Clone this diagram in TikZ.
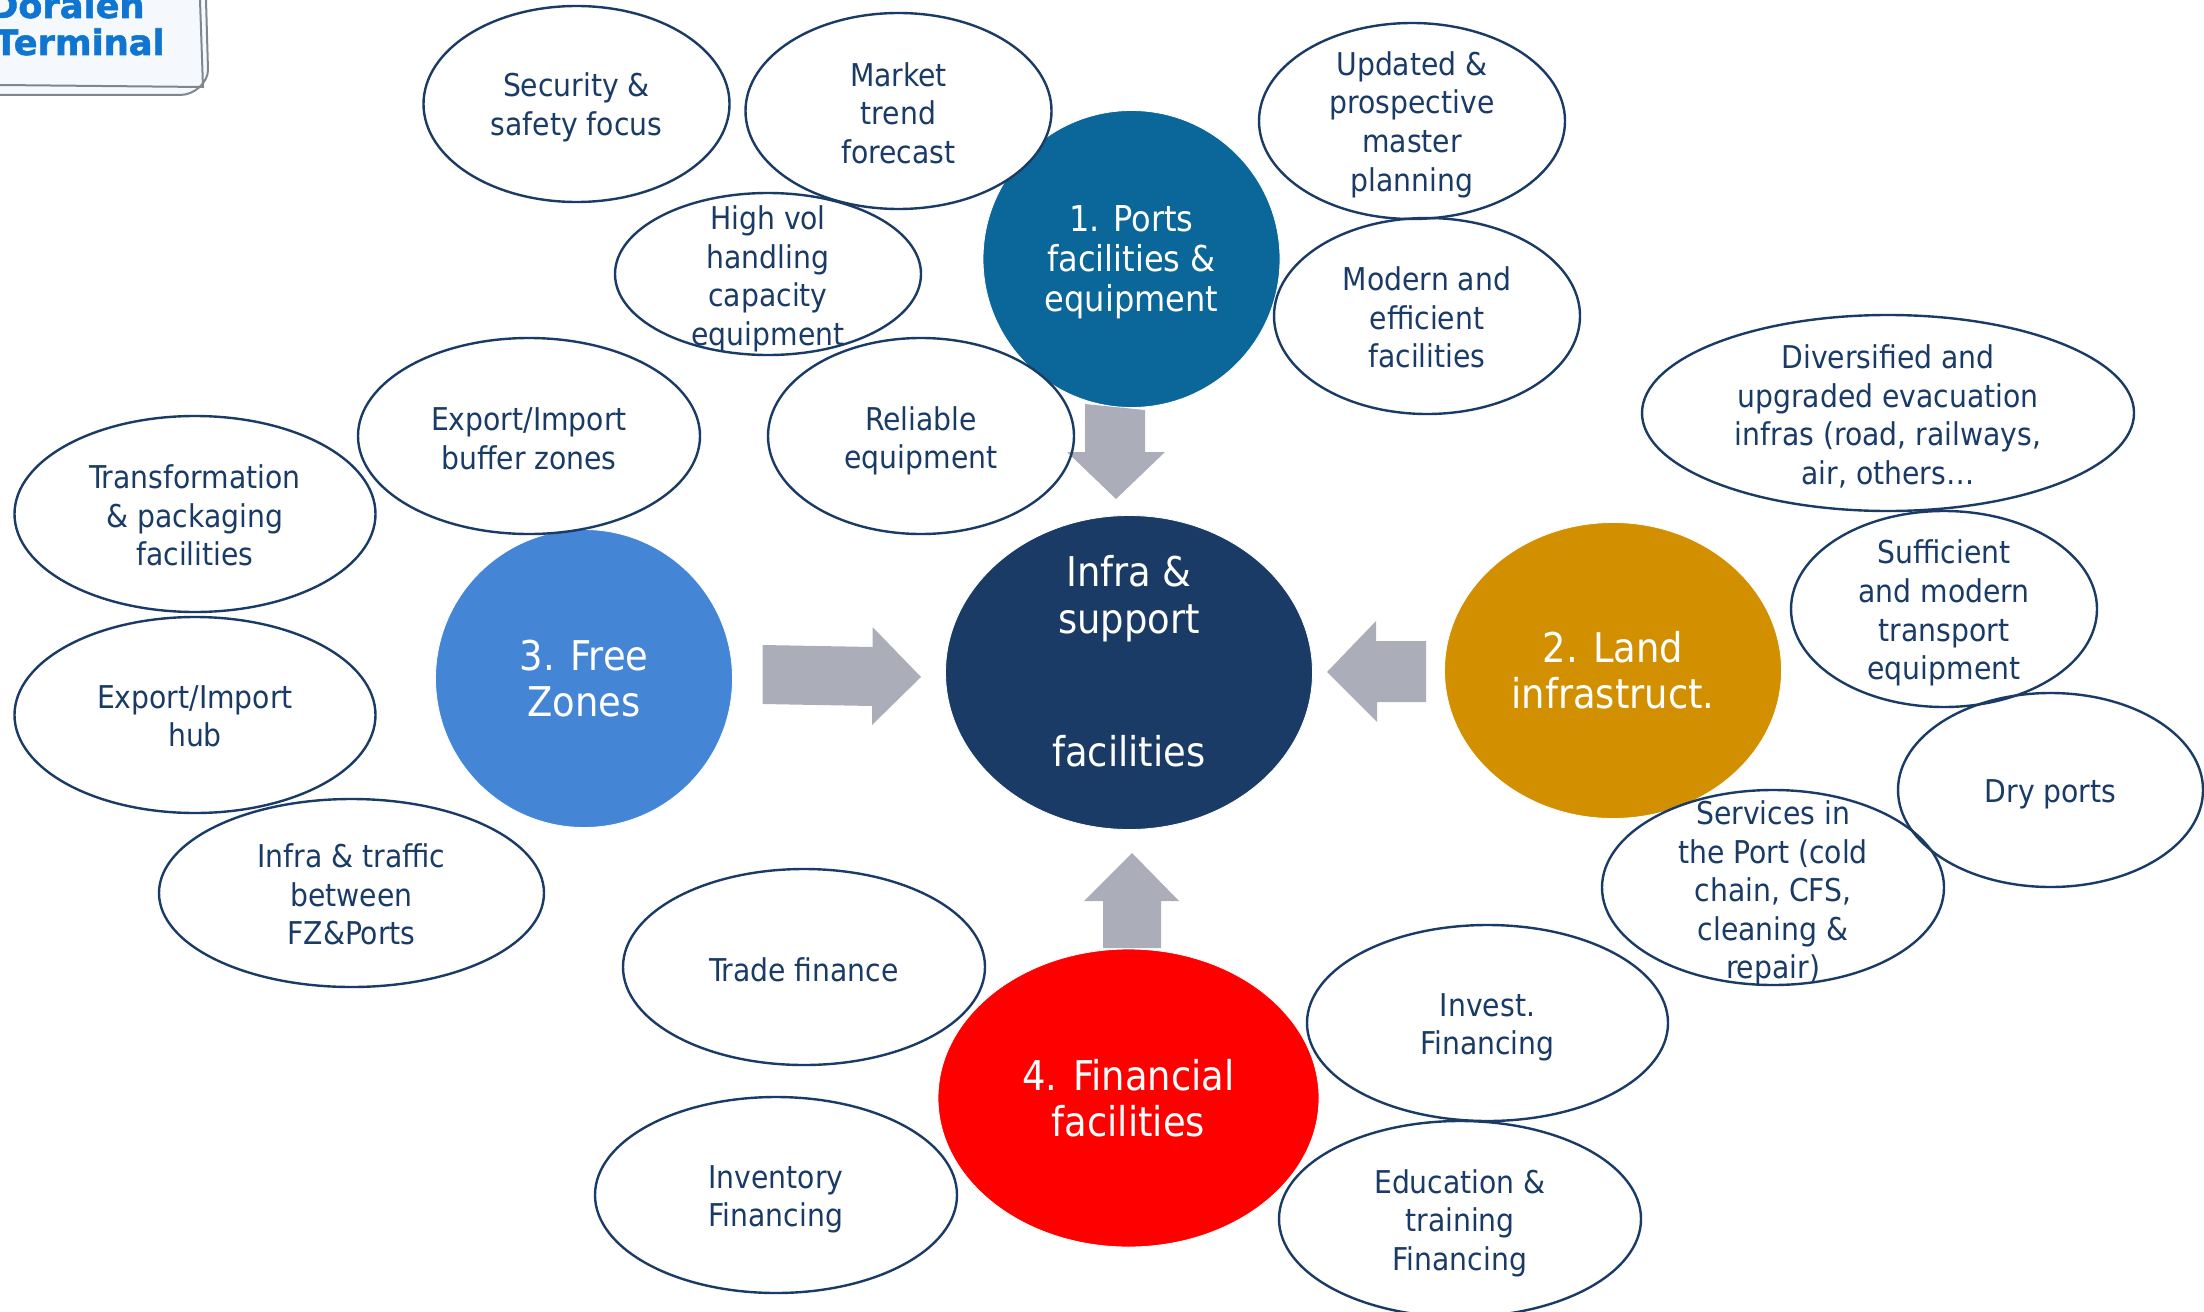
\documentclass[tikz,border=0pt]{standalone}
\usepackage{fontspec}
\setmainfont{DejaVu Sans Condensed}
\newfontfamily\logofont{DejaVu Sans}[FakeBold=1.5]
\definecolor{navy}{HTML}{1A3B66}
\definecolor{portsblue}{HTML}{0B6699}
\definecolor{landgold}{HTML}{D29000}
\definecolor{freeblue}{HTML}{4485D6}
\definecolor{arrowgrey}{HTML}{ABADB8}
\definecolor{logoblue}{HTML}{0F75D0}
\definecolor{logoedge}{HTML}{7F868E}
\tikzset{
  smalltxt/.style={text=navy,align=center,inner sep=0pt,font=\fontsize{15.7}{19.3}\selectfont},
  bigtxt/.style={text=white,align=center,inner sep=0pt,font=\fontsize{20.5}{23.2}\selectfont},
  portstxt/.style={text=white,align=center,inner sep=0pt,font=\fontsize{17.8}{20}\selectfont},
  bubble/.style={ellipse,draw=navy,line width=1.2pt,inner sep=0pt},
  hub/.style={ellipse,draw=white,line width=0.4pt,inner sep=0pt},
  blockarrow/.style={fill=arrowgrey,draw=none},
  logoline/.style={draw=logoedge,line width=1pt},
  logotxt/.style={text=logoblue,font=\logofont\bfseries\fontsize{17.6}{18.5}\selectfont,anchor=base east,inner sep=0pt}
}
\usetikzlibrary{shapes.geometric}
\newcommand\bubfill[7]{\fill[white] (#2,#3) ellipse [x radius=#4, y radius=#5];}
\newcommand\bubnode[7]{\node[bubble,minimum width=#4pt,minimum height=#5pt,label={[smalltxt,yshift=-#6pt]center:{#7}}] (#1) at (#2,#3) {};}
\newcommand\hubnode[7]{\node[hub,fill=#6,minimum width=#4pt,minimum height=#5pt,label={[bigtxt]center:{#7}}] (#1) at (#2,#3) {};}
\newcommand\allbubbles{%
  \bub{security}{576.5}{104}{153}{98}{1.75}{Security \&\\safety focus}
  \bub{market}{898.5}{111}{153}{98}{1.0}{Market\\trend\\forecast}
  \bub{highvol}{768}{274}{153}{81}{2.5}{High vol\\handling\\capacity\\equipment}
  \bub{updated}{1412}{121}{153}{98}{1.75}{Updated \&\\prospective\\master\\planning}
  \bub{modern}{1427}{316}{153}{98}{0.7}{Modern and\\efficient\\facilities}
  \bub{reliable}{921}{436}{153}{98}{2.5}{Reliable\\equipment}
  \bub{buffer}{529}{436}{171}{98}{1.4}{Export/Import\\buffer zones}
  \bub{transform}{195}{514}{180.5}{98}{0.7}{Transformation\\\& packaging\\facilities}
  \bub{exphub}{195}{715}{180.5}{98}{0.7}{Export/Import\\hub}
  \bub{traffic}{351.5}{893}{192.5}{94}{0.7}{Infra \& traffic\\between\\FZ\&Ports}
  \bub{trade}{804}{967}{181}{98}{1.4}{Trade finance}
  \bub{inventory}{776}{1195}{181}{98}{2.1}{Inventory\\Financing}
  \bub{invest}{1487.5}{1023}{180.5}{98}{2.1}{Invest.\\Financing}
  \bub{education}{1460}{1219}{181}{98}{2.1}{Education \&\\training\\Financing}
  \bub{services}{1773}{887.5}{171}{97.5}{2.8}{Services in\\the Port (cold\\chain, CFS,\\cleaning \&\\repair)}
  \bub{dry}{2050.5}{790}{152.5}{97}{2.1}{Dry ports}
  \bub{sufficient}{1944}{609}{153}{98}{2.1}{Sufficient\\and modern\\transport\\equipment}
  \bub{diversified}{1888}{413}{246}{98}{1.75}{Diversified and\\upgraded evacuation\\infras (road, railways,\\air, others…}
}
\begin{document}
\begin{tikzpicture}[x=0.5pt,y=-0.5pt]
\useasboundingbox (0,0) rectangle (2204,1311);
\clip (0,0) rectangle (2204,1311);
% logo
\fill[white!96!logoblue] (0,0) -- (206,0) -- (208,70) .. controls (208,82) and (195,95) .. (180,95) -- (0,95) -- cycle;
\draw[logoline] (206,0) -- (208,70) .. controls (208,82) and (195,95) .. (180,95) -- (0,95);
\draw[logoline] (200,0) -- (203,87) -- (0,85);
\node[logotxt] (logoa) at (145,18) {Doraleh};
\node[logotxt] (logob) at (165,55) {Terminal};
% hubs beneath the bubbles
\node[hub,fill=portsblue,minimum width=148.5pt,minimum height=148.5pt,label={[portstxt,yshift=-1.4pt]center:{1. Ports\\facilities \&\\equipment}}] (ports) at (1131.5,259) {};
\hubnode{land}{1613}{670.5}{168.5}{148}{landgold}{2. Land\\infrastruct.}
% white interiors
\let\bub\bubfill
\allbubbles
% block arrows
\fill[blockarrow] (1085,404) -- (1145,410) -- (1145,452) -- (1165,452) -- (1116,499) -- (1067,452) -- (1085,452) -- cycle;
\fill[blockarrow] (1426,641) -- (1376,641) -- (1376,621) -- (1327,672) -- (1377,722) -- (1377,702) -- (1426,702) -- cycle;
\fill[blockarrow] (762.5,645) -- (872.5,647) -- (872.5,627) -- (921,677) -- (872,725) -- (872,706) -- (762.5,704) -- cycle;
\fill[blockarrow] (1132,853) -- (1179,901) -- (1161,901) -- (1161,948) -- (1103,948) -- (1103,901) -- (1084,901) -- cycle;
% remaining hubs
\node[hub,fill=navy,minimum width=183.5pt,minimum height=157pt,label={[bigtxt,yshift=5.6pt]center:{Infra \&\\support\\[43.5pt]facilities}}] (infra) at (1129,672.5) {};
\hubnode{free}{584}{678.5}{148.5}{149}{freeblue}{3. Free\\Zones}
\hubnode{financial}{1128.5}{1098}{190.5}{149}{red}{4. Financial\\facilities}
% outlines
\let\bub\bubnode
\allbubbles
\end{tikzpicture}
\end{document}
